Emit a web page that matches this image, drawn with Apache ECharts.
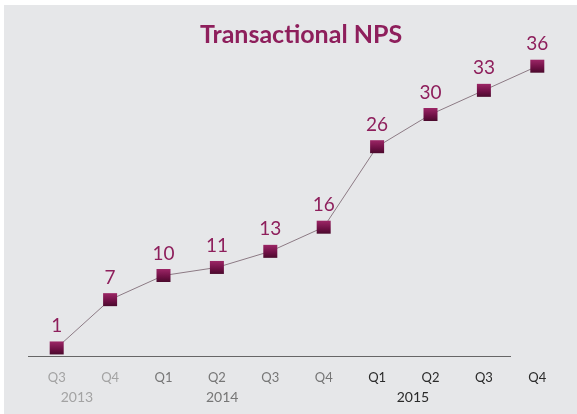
<!DOCTYPE html>
<html>
<head>
<meta charset="utf-8">
<script src="https://cdn.jsdelivr.net/npm/echarts@6/dist/echarts.min.js"></script>
<style>
html,body{margin:0;padding:0;background:#ffffff;}
#chart{position:absolute;left:4px;top:5px;width:573px;height:409px;background:#e6e7e9;}
</style>
</head>
<body>
<div id="chart"></div>
<script>
const quarters = ['Q3','Q4','Q1','Q2','Q3','Q4','Q1','Q2','Q3','Q4'];
const quarterYears = [2013,2013,2014,2014,2014,2014,2015,2015,2015,2015];
const npsValues = [1,7,10,11,13,16,26,30,33,36];
const yearLabels = ['2013','2014','2015'];
const yearPositions = [0.38, 3.1, 6.67];
const yearColors = {2013:'#a3a3a3', 2014:'#767676', 2015:'#2a2a2a'};

const chart = echarts.init(document.getElementById('chart'));
const option = {
  backgroundColor: 'transparent',
  animation: false,
  title: {
    text: 'Transactional NPS',
    left: 191,
    top: 12,
    textStyle: {fontFamily: 'Lato', fontWeight: 'bold', fontSize: 25, color: '#8e1f5c'}
  },
  grid: {left: 26, right: 13, top: 29, bottom: 58},
  xAxis: [{
    type: 'category',
    data: quarters,
    boundaryGap: true,
    axisLine: {show: false},
    axisTick: {show: false},
    axisLabel: {
      margin: 15,
      fontFamily: 'Lato',
      fontSize: 13,
      color: function (v, i) { return yearColors[quarterYears[i]]; }
    }
  }, {
    type: 'value',
    position: 'bottom',
    min: -0.5, max: 9.5,
    axisLine: {show: false},
    axisTick: {show: false},
    splitLine: {show: false},
    axisLabel: {
      customValues: yearPositions,
      margin: 34,
      fontFamily: 'Lato',
      fontSize: 14,
      formatter: function (v) {
        const i = yearPositions.findIndex(p => Math.abs(p - v) < 1e-6);
        return i >= 0 ? yearLabels[i] : '';
      },
      color: function (v) {
        const i = yearPositions.findIndex(p => Math.abs(p - Number(v)) < 1e-6);
        return i >= 0 ? yearColors[yearLabels[i]] : '#777';
      }
    }
  }],
  yAxis: {
    type: 'value', min: 0, max: 40,
    show: false
  },
  series: [{
    type: 'line',
    data: npsValues,
    xAxisIndex: 0,
    symbol: 'rect',
    symbolSize: [14, 13],
    lineStyle: {color: '#8c7a84', width: 1},
    itemStyle: {
      color: new echarts.graphic.LinearGradient(0, 0, 0, 1, [
        {offset: 0, color: '#9c2666'},
        {offset: 0.6, color: '#6e1044'},
        {offset: 1, color: '#4a0a2c'}
      ])
    },
    label: {
      show: true,
      position: 'top',
      distance: 6,
      fontFamily: 'Lato',
      fontSize: 19,
      color: '#8e1f5c'
    }
  }]
};
chart.setOption(option);
const y0 = chart.convertToPixel({yAxisIndex: 0}, 0);
chart.setOption({
  graphic: [{
    type: 'line',
    shape: {x1: 24, y1: Math.round(y0) + 0.5, x2: 507, y2: Math.round(y0) + 0.5},
    style: {stroke: '#666666', lineWidth: 1.2},
    z: 0
  }]
});
</script>
</body>
</html>
